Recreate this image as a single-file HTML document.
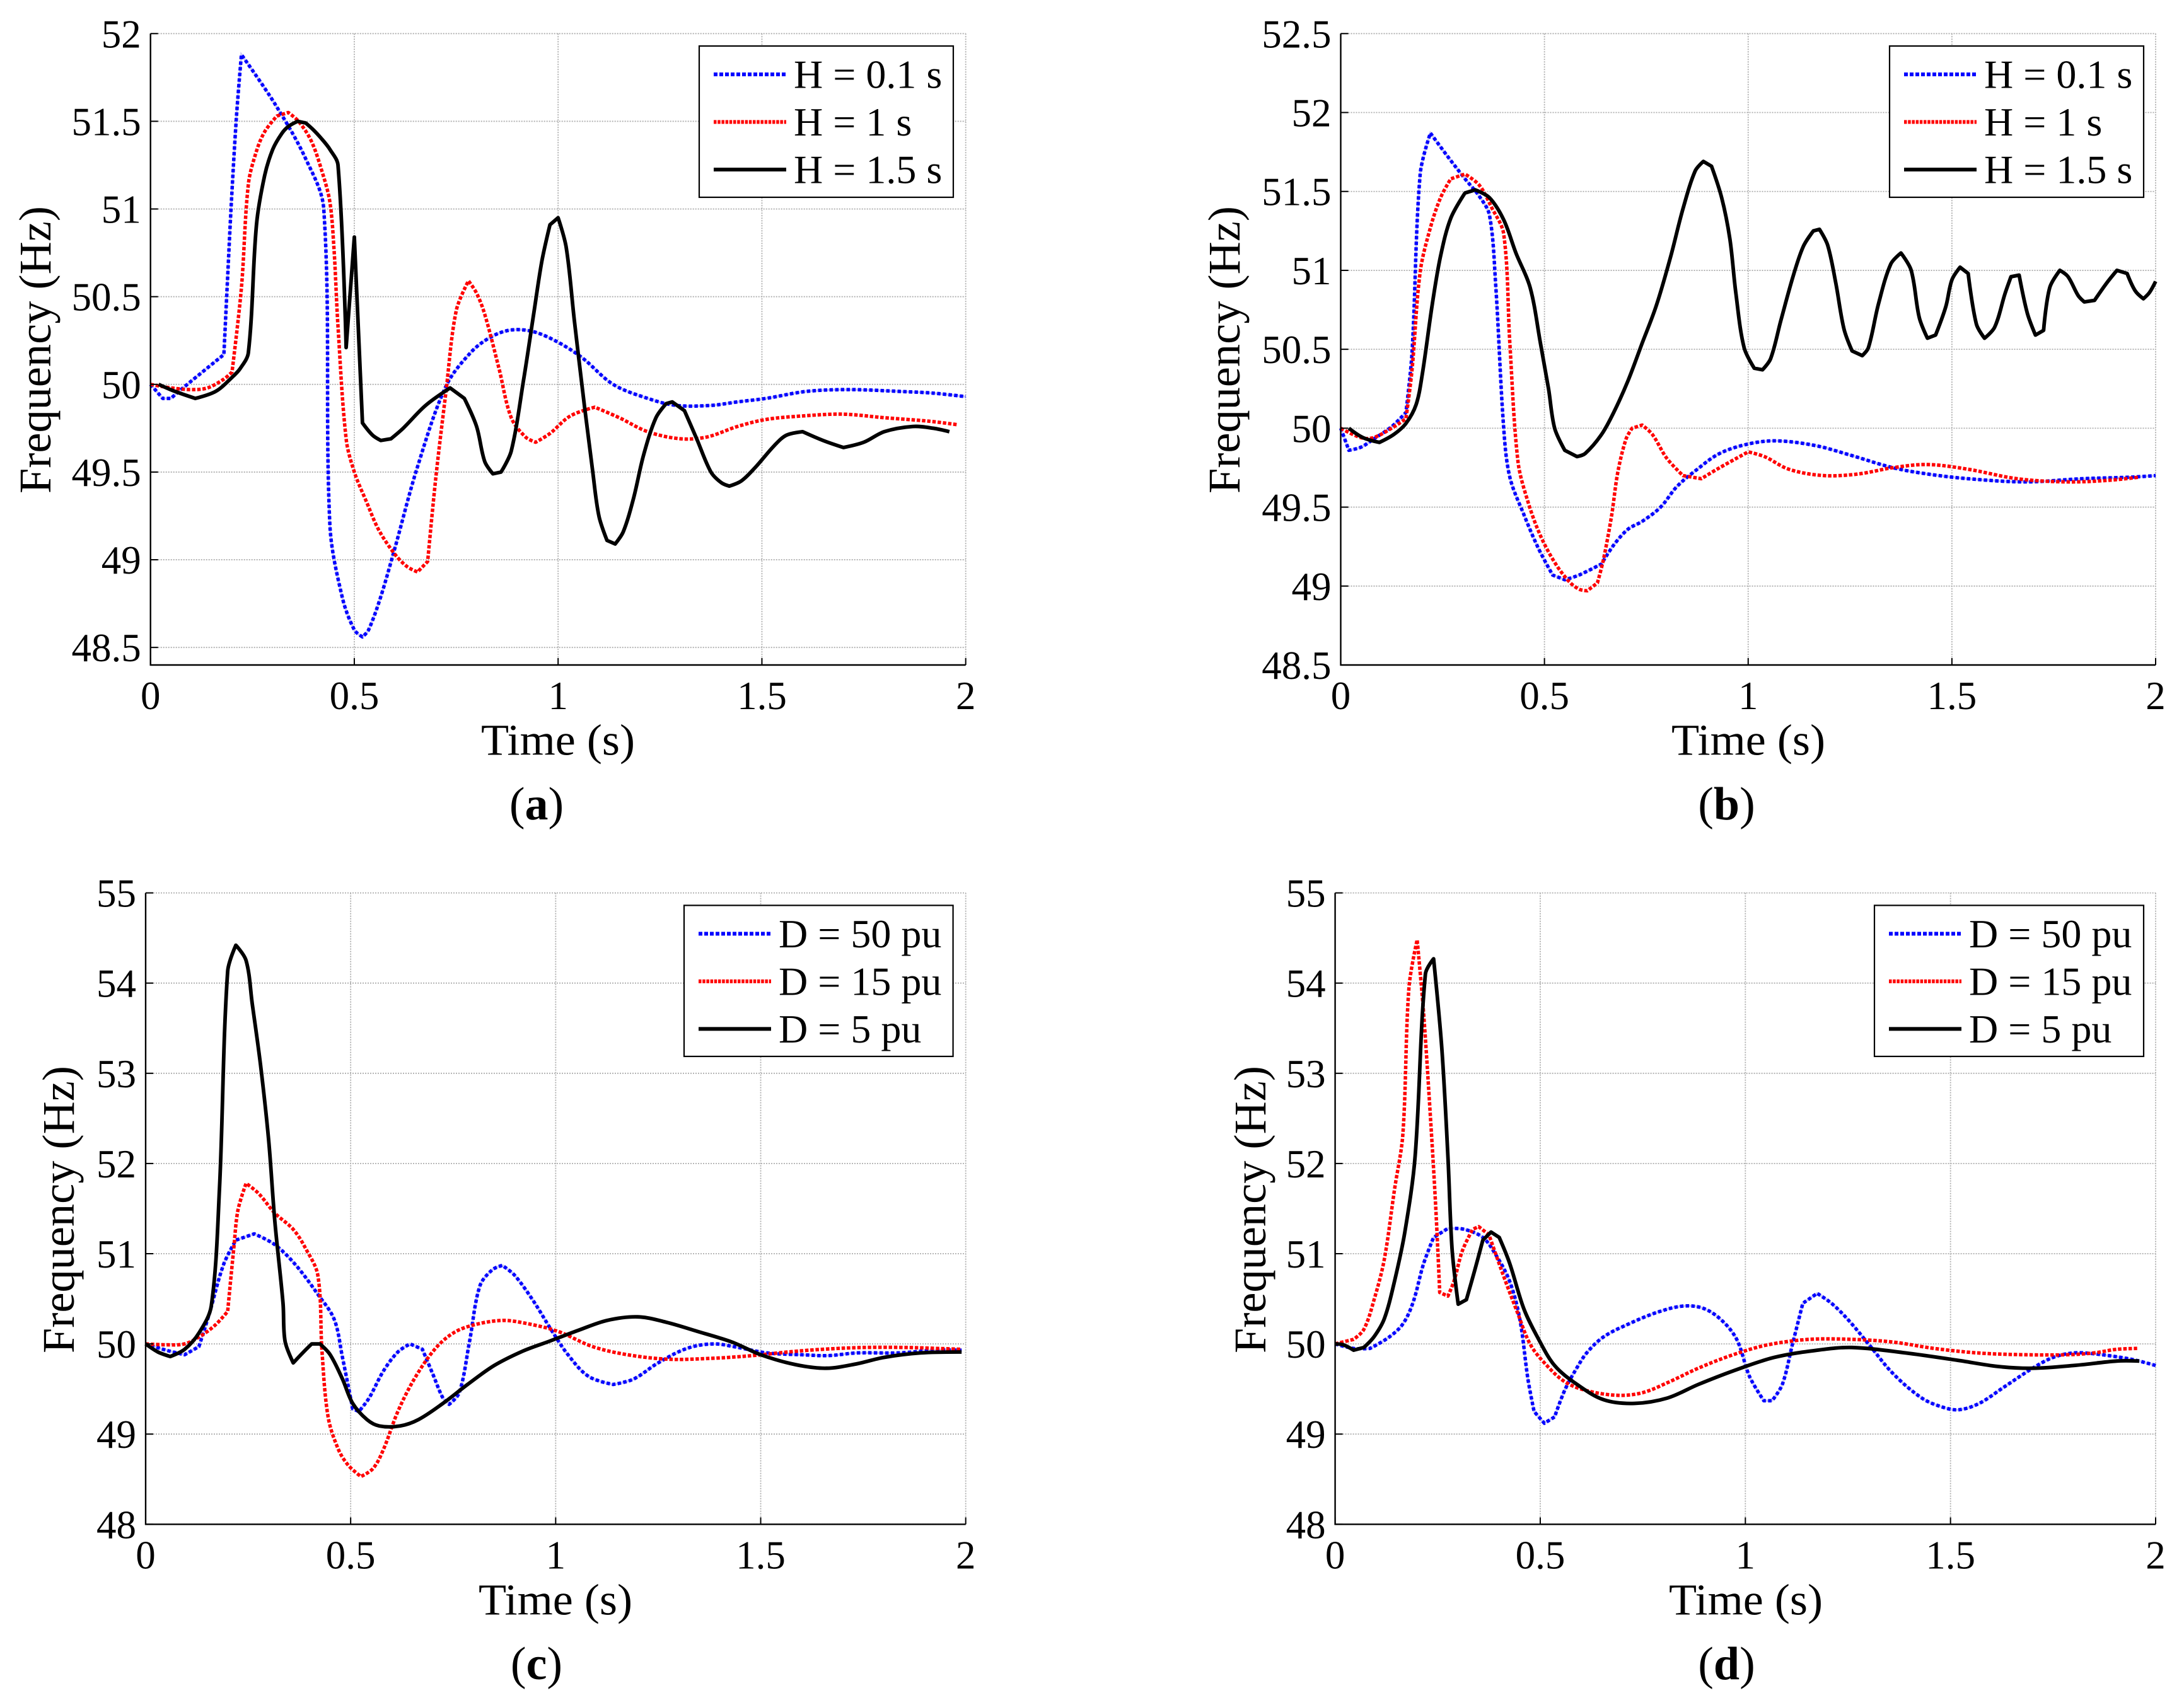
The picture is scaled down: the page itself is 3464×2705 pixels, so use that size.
<!DOCTYPE html>
<html>
<head>
<meta charset="utf-8">
<title>Frequency response for varied inertia and damping</title>
<style>
html,body{margin:0;padding:0;background:#fff;}
svg{display:block;}
text{font-family:"Liberation Serif",serif;fill:#000;}
</style>
</head>
<body>
<svg id="figure" xmlns="http://www.w3.org/2000/svg" width="3464" height="2705" viewBox="0 0 3464 2705"></svg>
<script>
// Shared x-axis ticks
const xTicks = [0, 0.5, 1, 1.5, 2];
const xTickLabels = ["0", "0.5", "1", "1.5", "2"];

// Panel (a) ticks
const aYTicks = [48.5, 49, 49.5, 50, 50.5, 51, 51.5, 52];
const aYTickLabels = ["48.5", "49", "49.5", "50", "50.5", "51", "51.5", "52"];
// Panel (b) ticks
const bYTicks = [48.5, 49, 49.5, 50, 50.5, 51, 51.5, 52, 52.5];
const bYTickLabels = ["48.5", "49", "49.5", "50", "50.5", "51", "51.5", "52", "52.5"];
// Panels (c), (d) ticks
const cdYTicks = [48, 49, 50, 51, 52, 53, 54, 55];
const cdYTickLabels = ["48", "49", "50", "51", "52", "53", "54", "55"];

const inertiaLabels = ["H = 0.1 s", "H = 1 s", "H = 1.5 s"];
const dampingLabels = ["D = 50 pu", "D = 15 pu", "D = 5 pu"];

// Panel (a) series
const aBlueT = [0,.03,.05,.085,.18,.188,.198,.211,.223,.305,.38,.425,.44,.47,.5,.52,.535,.565,.6,.655,.725,.785,.835,.885,.94,1,1.06,1.135,1.22,1.29,1.375,1.44,1.51,1.61,1.715,1.835,1.92,2];
const aBlueF = [50,49.92,49.92,49.99,50.17,50.55,51.02,51.53,51.88,51.6,51.29,51,49.2,48.79,48.6,48.56,48.6,48.79,49.07,49.53,49.99,50.18,50.27,50.31,50.3,50.24,50.15,50,49.92,49.88,49.88,49.9,49.92,49.96,49.97,49.96,49.95,49.93];
const aRedT = [0,.05,.1,.14,.18,.2,.223,.24,.26,.28,.31,.338,.363,.394,.42,.44,.45,.46,.48,.5,.53,.56,.6,.63,.655,.68,.7,.725,.75,.78,.8,.82,.855,.885,.92,.945,.98,1.03,1.09,1.15,1.22,1.3,1.365,1.44,1.51,1.6,1.7,1.8,1.91,1.98];
const aRedF = [50,49.98,49.97,49.98,50.03,50.07,50.55,51.14,51.33,51.44,51.53,51.55,51.5,51.39,51.22,51.04,50.78,50.33,49.69,49.5,49.33,49.17,49.03,48.96,48.93,48.99,49.47,49.96,50.42,50.59,50.52,50.4,50.09,49.81,49.7,49.67,49.72,49.82,49.87,49.81,49.73,49.69,49.7,49.76,49.8,49.82,49.83,49.81,49.79,49.77];
const aBlackT = [.02,.06,.11,.16,.2,.22,.24,.26,.28,.3,.322,.338,.361,.381,.4,.42,.44,.46,.48,.5,.52,.545,.565,.59,.62,.675,.735,.77,.8,.82,.84,.86,.885,.915,.94,.96,.98,1,1.02,1.04,1.065,1.085,1.1,1.12,1.14,1.16,1.185,1.21,1.24,1.265,1.28,1.31,1.34,1.375,1.4,1.42,1.45,1.485,1.53,1.56,1.6,1.65,1.7,1.75,1.8,1.87,1.92,1.96];
const aBlackF = [50,49.96,49.92,49.96,50.04,50.09,50.18,50.91,51.19,51.34,51.43,51.47,51.5,51.49,51.45,51.4,51.34,51.25,50.21,50.84,49.78,49.71,49.68,49.69,49.75,49.88,49.98,49.92,49.76,49.56,49.49,49.5,49.62,50.02,50.4,50.7,50.91,50.95,50.78,50.36,49.87,49.5,49.25,49.11,49.09,49.16,49.35,49.6,49.81,49.89,49.9,49.85,49.69,49.5,49.44,49.42,49.45,49.53,49.65,49.71,49.73,49.68,49.64,49.67,49.73,49.76,49.75,49.73];

// Panel (b) series
const bBlueT = [0,.02,.05,.08,.125,.16,.175,.195,.22,.26,.305,.34,.365,.38,.4,.415,.45,.485,.52,.55,.585,.64,.67,.705,.74,.785,.825,.875,.93,1,1.07,1.165,1.25,1.355,1.44,1.54,1.68,1.82,1.94,2];
const bBlueF = [50,49.86,49.88,49.93,50.01,50.1,50.48,51.61,51.87,51.73,51.58,51.47,51.35,50.92,50,49.69,49.45,49.24,49.07,49.04,49.07,49.14,49.26,49.36,49.41,49.5,49.63,49.74,49.84,49.9,49.92,49.89,49.83,49.75,49.71,49.68,49.66,49.68,49.69,49.7];
const bRedT = [0,.05,.08,.125,.16,.175,.195,.22,.245,.27,.305,.34,.37,.4,.415,.435,.46,.49,.525,.56,.585,.605,.63,.645,.665,.68,.7,.715,.74,.765,.8,.84,.885,.93,1,1.04,1.1,1.185,1.27,1.355,1.44,1.54,1.66,1.78,1.885,1.96];
const bRedF = [50,49.94,49.94,50,50.06,50.37,50.99,51.27,51.46,51.58,51.61,51.54,51.4,51.23,50.54,49.79,49.53,49.32,49.15,49.03,48.98,48.97,49.02,49.17,49.45,49.72,49.93,50,50.02,49.96,49.81,49.7,49.68,49.75,49.85,49.82,49.74,49.7,49.71,49.75,49.77,49.74,49.68,49.66,49.67,49.69];
const bBlackT = [.02,.055,.095,.13,.16,.185,.2,.225,.245,.27,.305,.33,.365,.4,.43,.465,.49,.51,.525,.55,.58,.6,.64,.67,.705,.74,.775,.81,.84,.87,.89,.91,.935,.955,.97,.99,1.015,1.035,1.055,1.08,1.11,1.135,1.16,1.175,1.195,1.215,1.235,1.255,1.28,1.295,1.32,1.35,1.375,1.4,1.42,1.44,1.46,1.485,1.5,1.52,1.54,1.56,1.58,1.605,1.63,1.645,1.665,1.685,1.705,1.725,1.74,1.765,1.785,1.81,1.825,1.85,1.88,1.905,1.93,1.95,1.97,1.985,2];
const bBlackF = [50,49.94,49.91,49.96,50.03,50.15,50.34,50.79,51.09,51.33,51.49,51.51,51.46,51.32,51.11,50.89,50.54,50.25,50,49.86,49.82,49.84,49.96,50.1,50.3,50.54,50.78,51.09,51.39,51.63,51.69,51.66,51.46,51.2,50.85,50.51,50.38,50.37,50.44,50.68,50.96,51.15,51.25,51.26,51.16,50.92,50.63,50.49,50.46,50.51,50.79,51.04,51.11,51,50.7,50.57,50.59,50.77,50.94,51.02,50.98,50.66,50.57,50.64,50.85,50.96,50.97,50.73,50.59,50.62,50.89,51,50.96,50.84,50.8,50.81,50.92,51,50.98,50.87,50.82,50.86,50.93];

// Panel (c) series
const cBlueT = [0,.05,.095,.13,.155,.19,.22,.265,.315,.365,.42,.46,.48,.505,.52,.545,.58,.615,.645,.675,.7,.725,.74,.765,.79,.815,.845,.87,.9,.945,.99,1.03,1.08,1.14,1.19,1.25,1.32,1.385,1.445,1.515,1.6,1.665,1.735,1.84,1.92,1.99];
const cBlueF = [50,49.93,49.88,49.97,50.33,50.88,51.15,51.22,51.1,50.88,50.55,50.27,49.85,49.28,49.25,49.4,49.7,49.91,50,49.94,49.67,49.4,49.33,49.46,50.03,50.64,50.82,50.87,50.76,50.48,50.15,49.88,49.64,49.55,49.61,49.79,49.95,50,49.96,49.9,49.88,49.87,49.9,49.9,49.93,49.93];
const cRedT = [0,.05,.095,.135,.17,.2,.215,.225,.245,.275,.315,.36,.39,.42,.43,.445,.47,.495,.525,.555,.58,.615,.655,.705,.75,.8,.87,.925,1.005,1.09,1.175,1.275,1.38,1.48,1.565,1.65,1.75,1.855,1.99];
const cRedF = [50,49.99,50,50.09,50.21,50.36,51.06,51.48,51.78,51.67,51.45,51.27,51.06,50.76,49.92,49.19,48.83,48.65,48.53,48.62,48.83,49.25,49.61,49.94,50.12,50.21,50.26,50.23,50.14,49.97,49.88,49.83,49.84,49.87,49.91,49.94,49.96,49.96,49.94];
const cBlackT = [0,.03,.06,.095,.13,.16,.18,.2,.22,.245,.26,.28,.3,.315,.335,.34,.36,.385,.405,.425,.45,.48,.505,.54,.57,.62,.665,.725,.785,.85,.92,.985,1.055,1.125,1.2,1.27,1.345,1.43,1.5,1.585,1.66,1.735,1.8,1.89,1.99];
const cBlackF = [50,49.91,49.86,49.94,50.12,50.42,51.72,54.13,54.42,54.25,53.77,53.1,52.26,51.36,50.45,50.03,49.79,49.91,50,50,49.88,49.61,49.34,49.16,49.09,49.09,49.16,49.34,49.55,49.76,49.92,50.03,50.15,50.26,50.3,50.24,50.14,50.02,49.88,49.77,49.73,49.78,49.85,49.9,49.91];

// Panel (d) series
const dBlueT = [0,.045,.085,.13,.165,.19,.215,.24,.275,.315,.36,.39,.425,.45,.47,.485,.51,.535,.56,.59,.615,.655,.715,.785,.85,.9,.945,.98,1.01,1.045,1.065,1.09,1.115,1.14,1.175,1.21,1.25,1.3,1.36,1.43,1.48,1.52,1.57,1.63,1.7,1.75,1.8,1.85,1.94,2];
const dBlueF = [50,49.95,49.95,50.07,50.22,50.46,50.88,51.18,51.28,51.27,51.18,51,50.7,50.28,49.61,49.25,49.12,49.19,49.49,49.74,49.91,50.08,50.22,50.35,50.42,50.39,50.25,50.04,49.64,49.37,49.37,49.55,50,50.45,50.56,50.45,50.27,50,49.67,49.4,49.3,49.27,49.34,49.52,49.73,49.85,49.9,49.89,49.83,49.76];
const dRedT = [0,.045,.07,.095,.12,.145,.165,.18,.2,.215,.23,.245,.255,.275,.29,.31,.335,.35,.375,.41,.445,.475,.51,.56,.615,.69,.75,.815,.885,.97,1.055,1.155,1.26,1.36,1.46,1.565,1.68,1.785,1.85,1.905,1.955];
const dRedF = [50,50.05,50.16,50.49,50.94,51.72,52.32,53.95,54.48,53.71,52.68,51.54,50.57,50.53,50.7,51.03,51.27,51.3,51.21,50.76,50.34,50,49.79,49.58,49.48,49.43,49.46,49.58,49.73,49.88,49.99,50.05,50.05,50.02,49.95,49.9,49.88,49.88,49.9,49.94,49.95];
const dBlackT = [0,.02,.045,.07,.095,.12,.145,.17,.195,.22,.24,.26,.275,.285,.3,.32,.34,.36,.38,.4,.425,.46,.495,.535,.59,.655,.73,.81,.885,.97,1.07,1.175,1.26,1.39,1.515,1.615,1.7,1.8,1.905,1.96];
const dBlackF = [50,49.99,49.93,49.96,50.08,50.28,50.7,51.24,52.08,54.1,54.27,53.28,52.08,51.06,50.44,50.49,50.81,51.15,51.24,51.18,50.9,50.39,50.06,49.76,49.55,49.38,49.34,49.4,49.55,49.7,49.85,49.93,49.96,49.9,49.82,49.75,49.73,49.76,49.81,49.81];

const NS = "http://www.w3.org/2000/svg";
const figure = document.getElementById("figure");

function make(tag, attrs, parent, txt) {
  const el = document.createElementNS(NS, tag);
  for (const k in attrs) el.setAttribute(k, attrs[k]);
  if (txt !== undefined) el.textContent = txt;
  parent.appendChild(el);
  return el;
}

const seriesStyles = [
  {stroke: "#0000ff", width: 5.5, dash: "5.5 3.5", legendDash: "6 3", under: "#c8c8f4"},
  {stroke: "#ff0000", width: 5.5, dash: "5.5 2.8", legendDash: "4.5 1.7", under: ""},
  {stroke: "#000000", width: 5.8, dash: "", legendDash: "", under: ""}
];

// Smooth path through the points; bends sharper than about 30 degrees stay as corners.
function curvePath(px, py) {
  const n = px.length;
  const dirs = [];
  for (let i = 0; i < n; i++) {
    if (i === 0 || i === n - 1) { dirs.push(null); continue; }
    const ax = px[i] - px[i - 1], ay = py[i] - py[i - 1];
    const bx = px[i + 1] - px[i], by = py[i + 1] - py[i];
    const la = Math.hypot(ax, ay), lb = Math.hypot(bx, by);
    const cos = (ax * bx + ay * by) / (la * lb || 1);
    if (cos < 0.866) { dirs.push(null); continue; }
    const dx = px[i + 1] - px[i - 1], dy = py[i + 1] - py[i - 1];
    const l = Math.hypot(dx, dy) || 1;
    dirs.push([dx / l, dy / l]);
  }
  let d = "M" + px[0].toFixed(1) + " " + py[0].toFixed(1);
  for (let i = 0; i < n - 1; i++) {
    const seg = Math.hypot(px[i + 1] - px[i], py[i + 1] - py[i]) / 3;
    const c1x = dirs[i] ? px[i] + dirs[i][0] * seg : px[i];
    const c1y = dirs[i] ? py[i] + dirs[i][1] * seg : py[i];
    const c2x = dirs[i + 1] ? px[i + 1] - dirs[i + 1][0] * seg : px[i + 1];
    const c2y = dirs[i + 1] ? py[i + 1] - dirs[i + 1][1] * seg : py[i + 1];
    d += "C" + c1x.toFixed(1) + " " + c1y.toFixed(1) + " " + c2x.toFixed(1) + " " + c2y.toFixed(1) + " " + px[i + 1].toFixed(1) + " " + py[i + 1].toFixed(1);
  }
  return d;
}

function drawPanel(p) {
  const xScale = t => p.left + (t - 0) / 2 * (p.right - p.left);
  const yScale = f => p.bottom - (f - p.yMin) / (p.yMax - p.yMin) * (p.bottom - p.top);

  const g = make("g", {}, figure);
  
  

  // gridlines
  const grid = make("g", {stroke: "#adadad", "stroke-width": 1.8, "stroke-dasharray": "2 2", fill: "none"}, g);
  
  
  p.xTicks.forEach(t => {
    if (t === 0) return;
    const l = make("line", {x1: xScale(t), x2: xScale(t), y1: p.top, y2: p.bottom}, grid);
    
    
  });
  p.yTicks.forEach(f => {
    const l = make("line", {x1: p.left, x2: p.right, y1: yScale(f), y2: yScale(f)}, grid);
    
    
  });

  // series
  p.series.forEach((s, i) => {
    const st = seriesStyles[i];
    const d = curvePath(s.t.map(xScale), s.f.map(yScale));
    if (st.under) {
      const under = make("path", {d: d, fill: "none", stroke: st.under, "stroke-width": 3.5}, g);
      
      
    }
    const line = make("path", {d: d, fill: "none", stroke: st.stroke, "stroke-width": st.width, "stroke-linejoin": "round"}, g);
    if (st.dash) line.setAttribute("stroke-dasharray", st.dash);
    
    
  });

  // axes
  const yAxis = make("line", {x1: p.left, x2: p.left, y1: p.top, y2: p.bottom + 1, stroke: "#000", "stroke-width": 2.4}, g);
  
  
  const xAxis = make("line", {x1: p.left - 1, x2: p.right, y1: p.bottom, y2: p.bottom, stroke: "#000", "stroke-width": 2.4}, g);
  
  

  p.xTicks.forEach((t, i) => {
    const tick = make("line", {x1: xScale(t), x2: xScale(t), y1: p.bottom, y2: p.bottom - 11, stroke: "#000", "stroke-width": 2}, g);
    
    
    const lab = make("text", {x: xScale(t), y: p.bottom + 70, "font-size": 63, "text-anchor": "middle"}, g, p.xTickLabels[i]);
    
    
  });
  p.yTicks.forEach((f, i) => {
    const tick = make("line", {x1: p.left, x2: p.left + 12, y1: yScale(f), y2: yScale(f), stroke: "#000", "stroke-width": 2}, g);
    
    
    const lab = make("text", {x: p.left - 15, y: yScale(f) + 22, "font-size": 63, "text-anchor": "end"}, g, p.yTickLabels[i]);
    
    
  });

  // axis titles
  const xt = make("text", {x: p.xTitleX, y: p.xTitleY, "font-size": 70, "text-anchor": "middle", textLength: 244, lengthAdjust: "spacingAndGlyphs"}, g, "Time (s)");
  
  
  const yt = make("text", {x: 0, y: 0, "font-size": 72, "text-anchor": "middle", textLength: 456, lengthAdjust: "spacingAndGlyphs", transform: "translate(" + p.yTitleX + " " + p.yTitleY + ") rotate(-90)"}, g, "Frequency (Hz)");
  
  

  // caption
  const cap = make("text", {x: p.capX, y: p.capY, "font-size": 74, "text-anchor": "middle"}, g);
  
  
  make("tspan", {}, cap, "(");
  make("tspan", {"font-weight": "bold"}, cap, p.id);
  make("tspan", {}, cap, ")");

  // legend
  const lg = make("g", {}, g);
  
  
  const box = make("rect", {x: p.legLeft, y: p.legTop, width: p.legRight - p.legLeft, height: p.legBottom - p.legTop, fill: "#fff", stroke: "#000", "stroke-width": 2.2}, lg);
  
  
  p.legendLabels.forEach((label, i) => {
    const st = seriesStyles[i];
    const y = p.legTop + 45 + i * 75.5;
    const sample = make("line", {x1: p.legLeft + 23, x2: p.legLeft + 138, y1: y, y2: y, stroke: st.stroke, "stroke-width": 6}, lg);
    if (st.legendDash) sample.setAttribute("stroke-dasharray", st.legendDash);
    
    
    const t = make("text", {x: p.legLeft + 150, y: y + 21.5, "font-size": 64, "xml:space": "preserve"}, lg, label);
    
    
  });
}

drawPanel({
  id: "a", left: 238.7, right: 1531.7, top: 53.3, bottom: 1055, yMin: 48.4, yMax: 52,
  xTicks: xTicks, xTickLabels: xTickLabels, yTicks: aYTicks, yTickLabels: aYTickLabels,
  series: [{t: aBlueT, f: aBlueF}, {t: aRedT, f: aRedF}, {t: aBlackT, f: aBlackF}],
  legendLabels: inertiaLabels, legLeft: 1109, legRight: 1512, legTop: 73, legBottom: 313,
  xTitleX: 885, xTitleY: 1197.5, yTitleX: 80, yTitleY: 555, capX: 851, capY: 1300
});
drawPanel({
  id: "b", left: 2126.5, right: 3419, top: 53.3, bottom: 1055, yMin: 48.5, yMax: 52.5,
  xTicks: xTicks, xTickLabels: xTickLabels, yTicks: bYTicks, yTickLabels: bYTickLabels,
  series: [{t: bBlueT, f: bBlueF}, {t: bRedT, f: bRedF}, {t: bBlackT, f: bBlackF}],
  legendLabels: inertiaLabels, legLeft: 2997, legRight: 3400, legTop: 73, legBottom: 313,
  xTitleX: 2773, xTitleY: 1197.5, yTitleX: 1966, yTitleY: 555, capX: 2738.5, capY: 1300
});
drawPanel({
  id: "c", left: 231, right: 1531.7, top: 1416.6, bottom: 2418.3, yMin: 48, yMax: 55,
  xTicks: xTicks, xTickLabels: xTickLabels, yTicks: cdYTicks, yTickLabels: cdYTickLabels,
  series: [{t: cBlueT, f: cBlueF}, {t: cRedT, f: cRedF}, {t: cBlackT, f: cBlackF}],
  legendLabels: dampingLabels, legLeft: 1085, legRight: 1511.6, legTop: 1436.4, legBottom: 1676,
  xTitleX: 881, xTitleY: 2561.5, yTitleX: 117, yTitleY: 1919, capX: 851, capY: 2664
});
drawPanel({
  id: "d", left: 2117.6, right: 3419, top: 1416.6, bottom: 2418.3, yMin: 48, yMax: 55,
  xTicks: xTicks, xTickLabels: xTickLabels, yTicks: cdYTicks, yTickLabels: cdYTickLabels,
  series: [{t: dBlueT, f: dBlueF}, {t: dRedT, f: dRedF}, {t: dBlackT, f: dBlackF}],
  legendLabels: dampingLabels, legLeft: 2973, legRight: 3400, legTop: 1436.4, legBottom: 1676,
  xTitleX: 2769, xTitleY: 2561.5, yTitleX: 2007, yTitleY: 1919, capX: 2738.5, capY: 2664
});
</script>
</body>
</html>
